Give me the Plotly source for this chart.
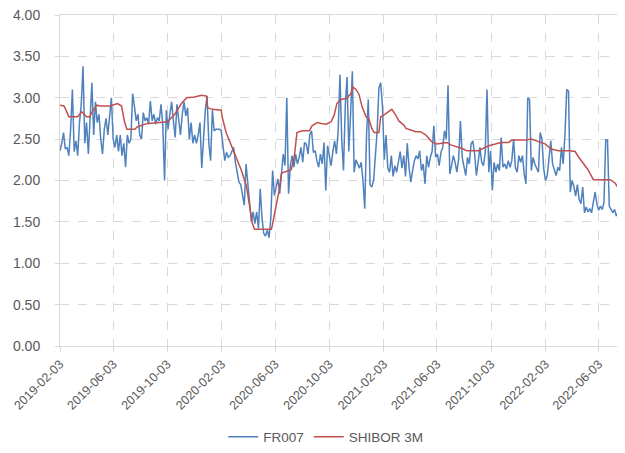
import pandas as pd
import plotly.graph_objects as go

# ---------------- data ----------------
fr007_start = "2019-02-03"
fr007_step_days = 4
fr007 = [
    # 2019-02 .. 2019-07
    2.36, 2.45, 2.58, 2.38, 2.40, 2.30, 2.62, 3.10, 2.35, 2.48, 2.30, 2.70, 2.92, 3.38,
    2.45, 2.70, 2.32, 2.76, 3.18, 2.55, 2.95, 2.70, 2.80, 2.50, 2.32, 2.62, 2.75, 2.55,
    2.80, 3.00, 2.50, 2.40, 2.55, 2.35, 2.55, 2.30, 2.45, 2.16, 2.55, 2.45, 2.50,
    # 2019-07 .. 2019-12
    3.05, 2.90, 2.72, 2.80, 2.55, 2.50, 2.82, 2.72, 2.76, 2.68, 2.96, 2.72, 2.80, 2.68,
    2.76, 2.72, 2.92, 2.68, 2.00, 2.85, 2.62, 2.80, 2.95, 2.72, 2.52, 2.92, 2.75, 2.55,
    2.80, 2.95, 2.78, 2.88, 2.50, 2.70, 2.45, 2.55, 2.45, 2.55, 2.70, 2.15,
    # 2019-12 .. 2020-06
    2.50, 2.85, 3.02, 2.45, 2.24, 2.85, 2.60, 2.62, 2.62, 2.62, 2.60, 2.38, 2.24, 2.34,
    2.28, 2.30, 2.35, 2.40, 2.22, 2.10, 1.98, 1.95, 1.80, 1.70, 2.20, 1.95, 1.72, 1.50,
    1.62, 1.48, 1.62, 1.42, 1.90, 1.55, 1.36, 1.33, 1.40, 1.31, 1.55, 2.12,
    # 2020-06 .. 2020-11
    1.82, 1.92, 2.02, 1.84, 2.12, 2.32, 2.18, 3.00, 1.84, 2.18, 2.30, 2.16, 2.32, 2.20,
    2.28, 2.40, 2.22, 2.46, 2.44, 2.32, 2.56, 2.60, 2.34, 2.36, 2.24, 2.16, 2.32, 2.20,
    2.46, 1.88, 2.42, 2.30, 2.18, 2.35, 2.48, 2.32, 2.60, 3.28, 2.50, 2.12,
    # 2020-11 .. 2021-04
    2.90, 3.25, 2.35, 2.80, 3.32, 2.10, 2.25, 2.20, 2.15, 2.22, 2.00, 1.66, 2.55, 2.98,
    1.95, 1.92, 2.00, 2.30, 2.60, 3.12, 3.18, 2.90, 2.25, 2.55, 2.15, 2.10, 2.30, 2.05,
    2.18, 2.10, 2.25, 2.35, 2.15, 2.30, 2.05, 2.45, 2.16, 1.98, 2.12, 2.24,
    # 2021-04 .. 2021-09
    2.30, 2.26, 2.36, 2.12, 2.20, 1.96, 2.30, 2.16, 2.28, 2.35, 2.66, 2.28, 2.32, 2.18,
    2.34, 2.40, 2.60, 2.50, 3.15, 2.08, 2.18, 2.30, 2.22, 2.10, 2.26, 2.72, 2.28, 2.16,
    2.06, 2.28, 2.20, 2.44, 2.48, 2.32, 2.06, 2.22, 2.40, 2.22, 2.18, 2.34, 3.10,
    # 2021-09 .. 2022-03
    2.10, 2.36, 1.88, 2.22, 2.10, 2.20, 2.12, 2.52, 2.16, 2.20, 2.14, 2.24, 2.16, 2.24,
    2.50, 2.16, 2.10, 2.30, 2.22, 2.30, 2.08, 1.96, 3.00, 2.98, 2.12, 2.28, 2.20, 2.14,
    2.10, 2.58, 2.50, 2.14, 2.00, 2.06, 2.30, 2.48, 2.20, 2.14, 2.06, 2.16,
    # 2022-03 .. 2022-07
    2.12, 2.40, 2.20, 2.56, 3.10, 3.08, 1.86, 2.00, 1.93, 1.81, 1.95, 1.77, 1.72, 1.92,
    1.61, 1.68, 1.62, 1.66, 1.61, 1.74, 1.86, 1.72, 1.64, 1.69, 1.65, 1.73, 2.49, 2.49,
    1.69, 1.65, 1.61, 1.65, 1.57, 1.62, 1.78, 1.52,
]

shibor_dates = [
    "2019-02-03", "2019-02-12", "2019-02-19", "2019-02-23", "2019-03-15", "2019-03-24",
    "2019-04-04", "2019-04-11", "2019-04-18", "2019-04-27", "2019-05-04", "2019-05-26",
    "2019-06-13", "2019-06-22", "2019-06-29", "2019-07-04", "2019-07-22", "2019-07-28",
    "2019-08-20", "2019-09-05", "2019-10-04", "2019-10-20", "2019-11-04", "2019-11-16",
    "2019-12-04", "2019-12-19", "2019-12-31", "2020-01-02", "2020-01-13", "2020-02-02",
    "2020-02-04", "2020-02-13", "2020-02-24", "2020-03-07", "2020-03-18", "2020-03-30",
    "2020-04-05", "2020-04-12", "2020-04-17", "2020-05-25", "2020-05-27", "2020-06-05",
    "2020-06-12", "2020-06-17", "2020-06-28", "2020-07-09", "2020-07-16", "2020-07-22",
    "2020-08-03", "2020-08-19", "2020-08-25", "2020-09-06", "2020-09-15", "2020-09-26",
    "2020-10-07", "2020-10-14", "2020-10-20", "2020-10-29", "2020-11-10", "2020-11-21",
    "2020-11-25", "2020-12-02", "2020-12-09", "2020-12-16", "2020-12-25", "2020-12-31",
    "2021-01-07", "2021-01-12", "2021-01-23", "2021-01-27", "2021-02-03", "2021-02-14",
    "2021-02-21", "2021-03-02", "2021-03-09", "2021-03-20", "2021-03-25", "2021-04-05",
    "2021-04-16", "2021-04-27", "2021-05-09", "2021-05-22", "2021-06-02", "2021-06-14",
    "2021-06-25", "2021-07-04", "2021-07-17", "2021-07-29", "2021-08-09", "2021-09-05",
    "2021-09-16", "2021-09-28", "2021-10-13", "2021-10-25", "2021-11-12", "2021-11-19",
    "2021-12-21", "2022-01-02", "2022-01-18", "2022-02-03", "2022-02-16", "2022-03-04",
    "2022-03-31", "2022-04-11", "2022-04-18", "2022-04-29", "2022-05-10", "2022-05-22",
    "2022-06-02", "2022-06-29", "2022-07-10", "2022-07-17", "2022-07-24",
]
shibor_3m = [
    2.91, 2.90, 2.82, 2.77, 2.77, 2.83,
    2.77, 2.77, 2.84, 2.91, 2.90, 2.90,
    2.93, 2.90, 2.70, 2.62, 2.62, 2.65,
    2.69, 2.70, 2.71, 2.80, 2.93, 3.00,
    3.01, 3.03, 3.02, 2.88, 2.86, 2.85,
    2.77, 2.58, 2.44, 2.29, 2.13, 1.93,
    1.72, 1.49, 1.41, 1.41, 1.45, 1.69,
    1.89, 2.09, 2.11, 2.13, 2.29, 2.58,
    2.60, 2.60, 2.66, 2.70, 2.69, 2.68,
    2.71, 2.79, 2.93, 2.98, 2.99, 3.05,
    3.13, 3.10, 3.04, 2.89, 2.77, 2.75,
    2.63, 2.58, 2.58, 2.77, 2.79, 2.83,
    2.86, 2.79, 2.72, 2.67, 2.63, 2.61,
    2.59, 2.59, 2.55, 2.47, 2.44, 2.45,
    2.46, 2.43, 2.41, 2.39, 2.36, 2.36,
    2.39, 2.42, 2.44, 2.46, 2.46, 2.49,
    2.49, 2.50, 2.47, 2.44, 2.38, 2.36,
    2.36, 2.35, 2.29, 2.21, 2.13, 2.01,
    2.01, 2.01, 1.97, 1.91, 1.83,
]

tick_labels = [
    "2019-02-03", "2019-06-03", "2019-10-03", "2020-02-03", "2020-06-03", "2020-10-03",
    "2021-02-03", "2021-06-03", "2021-10-03", "2022-02-03", "2022-06-03",
]
y_ticks = [0.0, 0.5, 1.0, 1.5, 2.0, 2.5, 3.0, 3.5, 4.0]

fr007_dates = pd.date_range(fr007_start, periods=len(fr007), freq=f"{fr007_step_days}D")

# ---------------- figure ----------------
font_family = "Liberation Sans, Arial, sans-serif"
text_color = "#595959"
grid_color = "#d9d9d9"

fig = go.Figure()
fig.add_trace(go.Scatter(
    x=fr007_dates, y=fr007, mode="lines", name="FR007",
    line=dict(color="#4F81BD", width=1.5),
))
fig.add_trace(go.Scatter(
    x=shibor_dates, y=shibor_3m, mode="lines", name="SHIBOR 3M",
    line=dict(color="#C0504D", width=1.5),
))

fig.update_layout(
    width=617, height=445,
    margin=dict(l=52, r=2, t=7, b=106),
    paper_bgcolor="white", plot_bgcolor="white",
    font=dict(family=font_family, size=12, color=text_color),
    showlegend=True,
    legend=dict(
        orientation="h", x=0.472, xanchor="center", y=-0.271, yanchor="middle",
        font=dict(size=13.5, color=text_color), bgcolor="rgba(0,0,0,0)",
    ),
)
fig.update_xaxes(
    type="date",
    range=["2019-02-03", "2022-07-28"],
    tickvals=tick_labels, ticktext=tick_labels,
    tickangle=-45,
    showgrid=True, gridcolor=grid_color, gridwidth=1, griddash="dash",
    showline=True, linecolor=grid_color, linewidth=1, mirror=True,
    ticks="outside", ticklen=5, tickcolor=grid_color,
    tickfont=dict(size=12.5, color=text_color),
    ticklabeloverflow="allow",
    zeroline=False, automargin=False,
)
fig.update_yaxes(
    range=[0, 4], tickvals=y_ticks, tickformat=".2f",
    showgrid=True, gridcolor=grid_color, gridwidth=1, griddash="dash",
    showline=True, linecolor=grid_color, linewidth=1,
    ticks="outside", ticklen=4, tickcolor=grid_color,
    ticklabelstandoff=12,
    tickfont=dict(size=14, color=text_color),
    ticklabeloverflow="allow",
    zeroline=False, automargin=False,
)

fig.write_html("out.html")
